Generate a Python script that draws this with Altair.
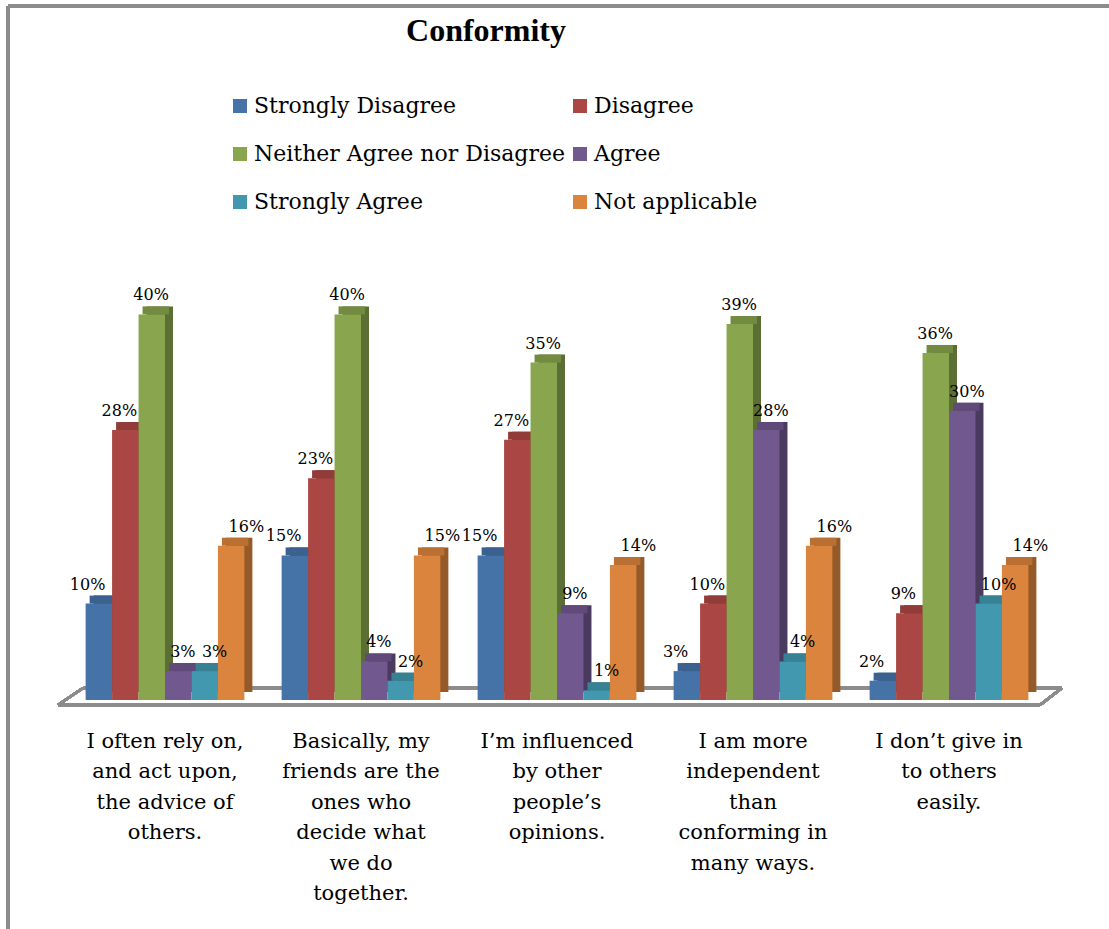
import altair as alt
import pandas as pd

questions = [
    "I often rely on,|and act upon,|the advice of|others.",
    "Basically, my|friends are the|ones who|decide what|we do|together.",
    "I’m influenced|by other|people’s|opinions.",
    "I am more|independent|than|conforming in|many ways.",
    "I don’t give in|to others|easily.",
]
responses = ["Strongly Disagree", "Disagree", "Neither Agree nor Disagree",
             "Agree", "Strongly Agree", "Not applicable"]
strongly_disagree = [10, 15, 15, 3, 2]
disagree = [28, 23, 27, 10, 9]
neither = [40, 40, 35, 39, 36]
agree = [3, 4, 9, 28, 30]
strongly_agree = [3, 2, 1, 4, 10]
not_applicable = [16, 15, 14, 16, 14]

front_colors = ["#4572A7", "#AA4643", "#89A54E", "#71588F", "#4198AF", "#DB843D"]
side_colors = ["#2E4C72", "#77302E", "#5B6E33", "#4A3A60", "#2B6676", "#955A29"]
top_colors = ["#3A6190", "#913C39", "#738B41", "#5F4A79", "#378194", "#BB7033"]

series = [strongly_disagree, disagree, neither, agree, strongly_agree, not_applicable]
rows = []
for r, vals, fc, sc, tc in zip(responses, series, front_colors, side_colors, top_colors):
    for q, v in zip(questions, vals):
        rows.append({"question": q, "response": r, "value": v,
                     "label": f"{v}%", "side": sc, "top": tc})
df = pd.DataFrame(rows)

X0, Y0, W, H = 67, 218, 980, 482
PAD_IN = 0.19
BAND = W / 5 * (1 - PAD_IN)
FONT = "DejaVu Serif"

x_enc = alt.X("question:N", sort=questions,
              scale=alt.Scale(paddingInner=PAD_IN, paddingOuter=PAD_IN / 2),
              axis=alt.Axis(title=None, domain=False, ticks=False,
                            labelAngle=0, labelFont=FONT, labelFontSize=21,
                            labelColor="#000000", labelBaseline="top",
                            labelPadding=30, labelLineHeight=30.5, labelLimit=0,
                            labelExpr="split(datum.label, '|')"))


def xo(shift=0):
    return alt.XOffset("response:N", sort=responses,
                       scale=alt.Scale(range=[shift, shift + BAND], paddingInner=0,
                                       paddingOuter=0))


y_scale = alt.Scale(domain=[0, 50])
y_enc = alt.Y("value:Q", scale=y_scale, axis=None)

base = alt.Chart(df)

side = base.mark_bar(yOffset=-8, y2Offset=-8).encode(
    x=x_enc, xOffset=xo(8), y=y_enc, y2=alt.datum(0),
    color=alt.Color("side:N", scale=None))

top = base.mark_bar(yOffset=-8, y2Offset=0).encode(
    x=x_enc, xOffset=xo(4), y=y_enc, y2=alt.Y2("value:Q"),
    color=alt.Color("top:N", scale=None))

front = base.mark_bar().encode(
    x=x_enc, xOffset=xo(0), y=y_enc,
    color=alt.Color("response:N", sort=responses,
                    scale=alt.Scale(domain=responses, range=front_colors),
                    legend=alt.Legend(title=None, orient="none", legendX=162, legendY=-123,
                                      direction="horizontal",
                                      columns=2, columnPadding=3, rowPadding=26,
                                      symbolType="square", symbolSize=196,
                                      symbolStrokeWidth=0, labelFont=FONT,
                                      labelFontSize=22, labelColor="#000000",
                                      labelOffset=3, labelLimit=0, padding=0)))

labels = base.mark_text(font=FONT, fontSize=16, color="#000000",
                        baseline="alphabetic", dy=-14).encode(
    x=x_enc, xOffset=xo(2), y=y_enc, text="label:N")

title = alt.Chart(pd.DataFrame({"t": ["Conformity"]})).mark_text(
    font="Liberation Serif", fontSize=32, fontWeight="bold", color="#000000",
    align="center", baseline="alphabetic").encode(
    text="t:N", x=alt.value(486 - X0), y=alt.value(41 - Y0))

floor_color = "#8C8C8C"
floor = [
    alt.Chart(df).mark_rule(color=floor_color, strokeWidth=2.5).encode(
        x=alt.value(-9), x2=alt.value(973), y=alt.value(487)),
    alt.Chart(df).mark_rule(color=floor_color, strokeWidth=2.5).encode(
        x=alt.value(16), x2=alt.value(995), y=alt.value(470)),
    alt.Chart(df).mark_rule(color=floor_color, strokeWidth=2.5).encode(
        x=alt.value(-9), x2=alt.value(16), y=alt.value(487), y2=alt.value(470)),
    alt.Chart(df).mark_rule(color=floor_color, strokeWidth=2.5).encode(
        x=alt.value(973), x2=alt.value(995), y=alt.value(487), y2=alt.value(470)),
]
frame = [
    alt.Chart(df).mark_rule(color="#8C8C8C", strokeWidth=2.5).encode(
        x=alt.value(-59), y=alt.value(-212), y2=alt.value(711)),
    alt.Chart(df).mark_rule(color="#8C8C8C", strokeWidth=2.5).encode(
        x=alt.value(-59), x2=alt.value(1050), y=alt.value(-212)),
]

chart = alt.layer(*frame, *floor, side, top, front, labels, title).resolve_scale(
    xOffset="independent"
).properties(
    width=W, height=H,
    padding={"left": X0, "top": Y0, "right": 1109 - X0 - W, "bottom": 929 - Y0 - H},
    autosize=alt.AutoSizeParams(type="none"),
).configure(background="#FFFFFF").configure_view(strokeWidth=0, stroke=None)

chart.save("out.html", embed_options={"renderer": "svg", "actions": False})
